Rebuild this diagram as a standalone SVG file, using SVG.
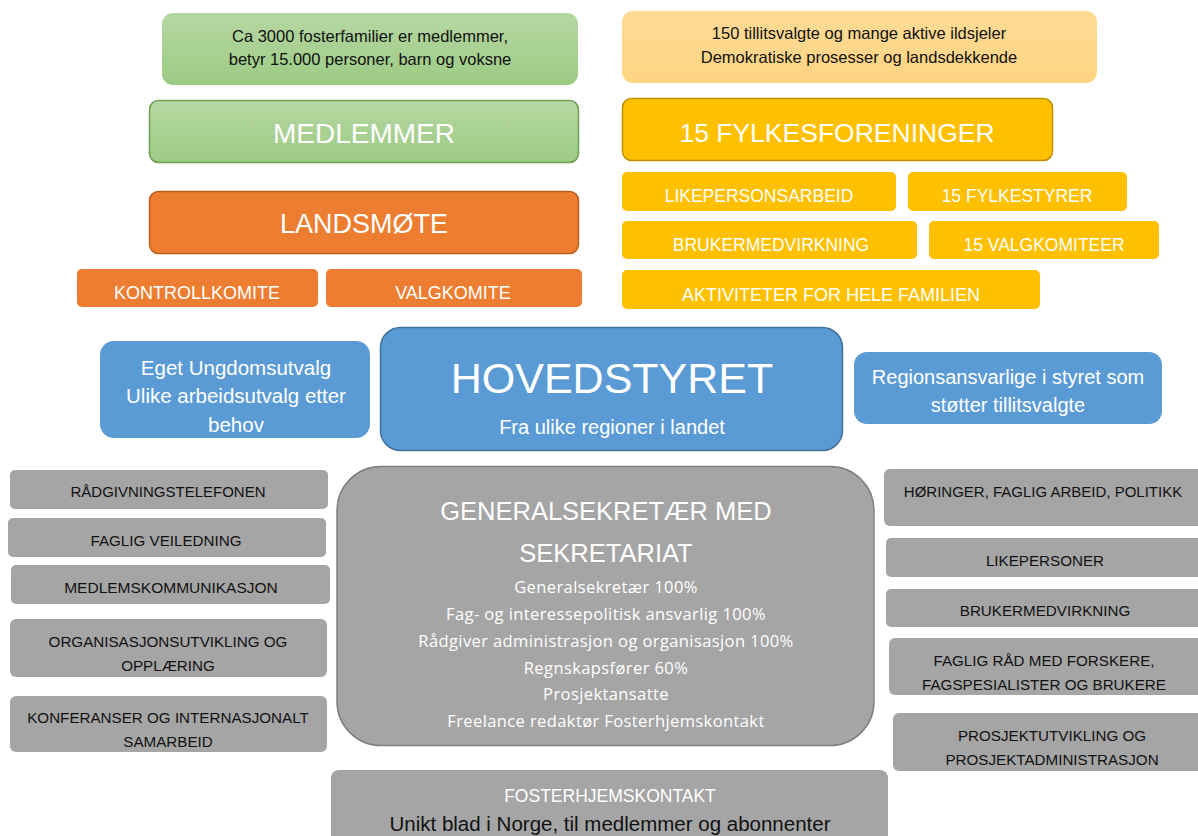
<svg xmlns="http://www.w3.org/2000/svg" width="1198" height="836" viewBox="0 0 1198 836">
<defs>
<linearGradient id="gGreen" x1="0" y1="0" x2="0" y2="1"><stop offset="0" stop-color="#b6d7a3"/><stop offset="1" stop-color="#9ccb83"/></linearGradient>
<linearGradient id="gPeach" x1="0" y1="0" x2="0" y2="1"><stop offset="0" stop-color="#fedb96"/><stop offset="1" stop-color="#ffd482"/></linearGradient>
</defs>
<style>
text{font-family:"Liberation Sans",Arial,sans-serif;text-anchor:middle}
.w{fill:#ffffff}
.k{fill:#111111}
.os{font-family:"Open Sans","DejaVu Sans",sans-serif;letter-spacing:0.4px}
.or{fill:#ed7d31}
.ye{fill:#ffc000}
.bl{fill:#5b9bd5}
.gr{fill:#a5a5a5}
</style>
<rect width="1198" height="836" fill="#ffffff"/>
<g id="connectors"/>

<g id="medlemmer-info">
<rect x="162" y="13" width="416" height="72" rx="11" fill="url(#gGreen)"/>
<text class="k" x="370" y="42" font-size="16.5">Ca 3000 fosterfamilier er medlemmer,</text>
<text class="k" x="370" y="65" font-size="16.5">betyr 15.000 personer, barn og voksne</text>
</g>
<g id="medlemmer">
<rect x="149.5" y="100.5" width="429" height="62" rx="9" fill="url(#gGreen)" stroke="#6f9f52" stroke-width="1.5"/>
<text class="w" x="364" y="143" font-size="28">MEDLEMMER</text>
</g>
<g id="landsmote">
<rect x="149.5" y="191.5" width="429" height="62" rx="9" class="or" stroke="#b9611f" stroke-width="1.5"/>
<text class="w" x="364" y="233" font-size="27">LANDSMØTE</text>
</g>
<g id="kontrollkomite">
<rect x="77" y="269" width="241" height="38" rx="5" class="or"/>
<text class="w" x="197" y="299" font-size="18">KONTROLLKOMITE</text>
</g>
<g id="valgkomite">
<rect x="326" y="269" width="256" height="38" rx="5" class="or"/>
<text class="w" x="453" y="299" font-size="18">VALGKOMITE</text>
</g>

<g id="fylke-info">
<rect x="622" y="11" width="475" height="72" rx="11" fill="url(#gPeach)"/>
<text class="k" x="859" y="39" font-size="16.5">150 tillitsvalgte og mange aktive ildsjeler</text>
<text class="k" x="859" y="63" font-size="16.5">Demokratiske prosesser og landsdekkende</text>
</g>
<g id="fylkesforeninger">
<rect x="622.5" y="98.5" width="430" height="62" rx="9" class="ye" stroke="#bf9000" stroke-width="1.5"/>
<text class="w" x="837" y="142" font-size="26.5">15 FYLKESFORENINGER</text>
</g>
<g id="likepersonsarbeid">
<rect x="622" y="172" width="274" height="39" rx="5" class="ye"/>
<text class="w" x="759" y="202" font-size="17.5">LIKEPERSONSARBEID</text>
</g>
<g id="fylkestyrer">
<rect x="908" y="172" width="219" height="39" rx="5" class="ye"/>
<text class="w" x="1017" y="202" font-size="17.5">15 FYLKESTYRER</text>
</g>
<g id="brukermedvirkning-fylke">
<rect x="622" y="221" width="295" height="38" rx="5" class="ye"/>
<text class="w" x="771" y="251" font-size="17.5">BRUKERMEDVIRKNING</text>
</g>
<g id="valgkomiteer">
<rect x="929" y="221" width="230" height="38" rx="5" class="ye"/>
<text class="w" x="1044" y="251" font-size="17.5">15 VALGKOMITEER</text>
</g>
<g id="aktiviteter">
<rect x="622" y="270" width="418" height="39" rx="5" class="ye"/>
<text class="w" x="831" y="301" font-size="18">AKTIVITETER FOR HELE FAMILIEN</text>
</g>

<g id="ungdomsutvalg">
<rect x="100" y="341" width="270" height="97" rx="14" class="bl"/>
<text class="w" x="236" y="375" font-size="20.5">Eget Ungdomsutvalg</text>
<text class="w" x="236" y="403" font-size="20.5">Ulike arbeidsutvalg etter</text>
<text class="w" x="236" y="432" font-size="20.5">behov</text>
</g>
<g id="hovedstyret">
<rect x="380.5" y="327.5" width="462" height="123" rx="20" class="bl" stroke="#41719c" stroke-width="1.5"/>
<text class="w" x="612" y="393" font-size="43">HOVEDSTYRET</text>
<text class="w" x="612" y="434" font-size="20">Fra ulike regioner i landet</text>
</g>
<g id="regionsansvarlige">
<rect x="854" y="352" width="308" height="72" rx="13" class="bl"/>
<text class="w" x="1008" y="384" font-size="20">Regionsansvarlige i styret som</text>
<text class="w" x="1008" y="412" font-size="20">støtter tillitsvalgte</text>
</g>

<g id="radgivningstelefonen">
<rect x="10" y="470" width="318" height="39" rx="5" class="gr"/>
<text class="k" x="168" y="497" font-size="15">RÅDGIVNINGSTELEFONEN</text>
</g>
<g id="faglig-veiledning">
<rect x="8" y="518" width="318" height="39" rx="5" class="gr"/>
<text class="k" x="166" y="546" font-size="15.2">FAGLIG VEILEDNING</text>
</g>
<g id="medlemskommunikasjon">
<rect x="11" y="565" width="319" height="39" rx="5" class="gr"/>
<text class="k" x="171" y="593" font-size="15.5">MEDLEMSKOMMUNIKASJON</text>
</g>
<g id="organisasjonsutvikling">
<rect x="10" y="619" width="317" height="58" rx="6" class="gr"/>
<text class="k" x="168" y="647" font-size="15.2">ORGANISASJONSUTVIKLING OG</text>
<text class="k" x="168" y="671" font-size="15.2">OPPLÆRING</text>
</g>
<g id="konferanser">
<rect x="10" y="696" width="317" height="56" rx="6" class="gr"/>
<text class="k" x="168" y="723" font-size="15.2">KONFERANSER OG INTERNASJONALT</text>
<text class="k" x="168" y="747" font-size="15.2">SAMARBEID</text>
</g>

<g id="generalsekretaer">
<rect x="337" y="466.5" width="537" height="279" rx="44" class="gr" stroke="#7f7f7f" stroke-width="1.5"/>
<text class="w" x="606" y="520" font-size="25.5">GENERALSEKRETÆR MED</text>
<text class="w" x="606" y="562" font-size="25.5">SEKRETARIAT</text>
<text class="w os" x="606" y="593" font-size="16.5">Generalsekretær 100%</text>
<text class="w os" x="606" y="620" font-size="16.5">Fag- og interessepolitisk ansvarlig 100%</text>
<text class="w os" x="606" y="647" font-size="16.5">Rådgiver administrasjon og organisasjon 100%</text>
<text class="w os" x="606" y="674" font-size="16.5">Regnskapsfører 60%</text>
<text class="w os" x="606" y="700" font-size="16.5">Prosjektansatte</text>
<text class="w os" x="606" y="727" font-size="16.5">Freelance redaktør Fosterhjemskontakt</text>
</g>

<g id="horinger">
<rect x="884" y="469" width="326" height="57" rx="6" class="gr"/>
<text class="k" x="1043" y="497" font-size="15">HØRINGER, FAGLIG ARBEID, POLITIKK</text>
</g>
<g id="likepersoner">
<rect x="886" y="538" width="324" height="39" rx="5" class="gr"/>
<text class="k" x="1045" y="566" font-size="15.2">LIKEPERSONER</text>
</g>
<g id="brukermedvirkning">
<rect x="886" y="589" width="324" height="38" rx="5" class="gr"/>
<text class="k" x="1045" y="616" font-size="15.2">BRUKERMEDVIRKNING</text>
</g>
<g id="faglig-rad">
<rect x="889" y="638" width="321" height="57" rx="6" class="gr"/>
<text class="k" x="1044" y="666" font-size="15.2">FAGLIG RÅD MED FORSKERE,</text>
<text class="k" x="1044" y="690" font-size="15.2">FAGSPESIALISTER OG BRUKERE</text>
</g>
<g id="prosjektutvikling">
<rect x="893" y="713" width="317" height="58" rx="6" class="gr"/>
<text class="k" x="1052" y="741" font-size="15.2">PROSJEKTUTVIKLING OG</text>
<text class="k" x="1052" y="765" font-size="15.2">PROSJEKTADMINISTRASJON</text>
</g>

<g id="fosterhjemskontakt">
<rect x="331" y="770" width="557" height="80" rx="8" class="gr"/>
<text class="w" x="610" y="802" font-size="17.5">FOSTERHJEMSKONTAKT</text>
<text class="k" x="610" y="831" font-size="20.5">Unikt blad i Norge, til medlemmer og abonnenter</text>
</g>
</svg>
